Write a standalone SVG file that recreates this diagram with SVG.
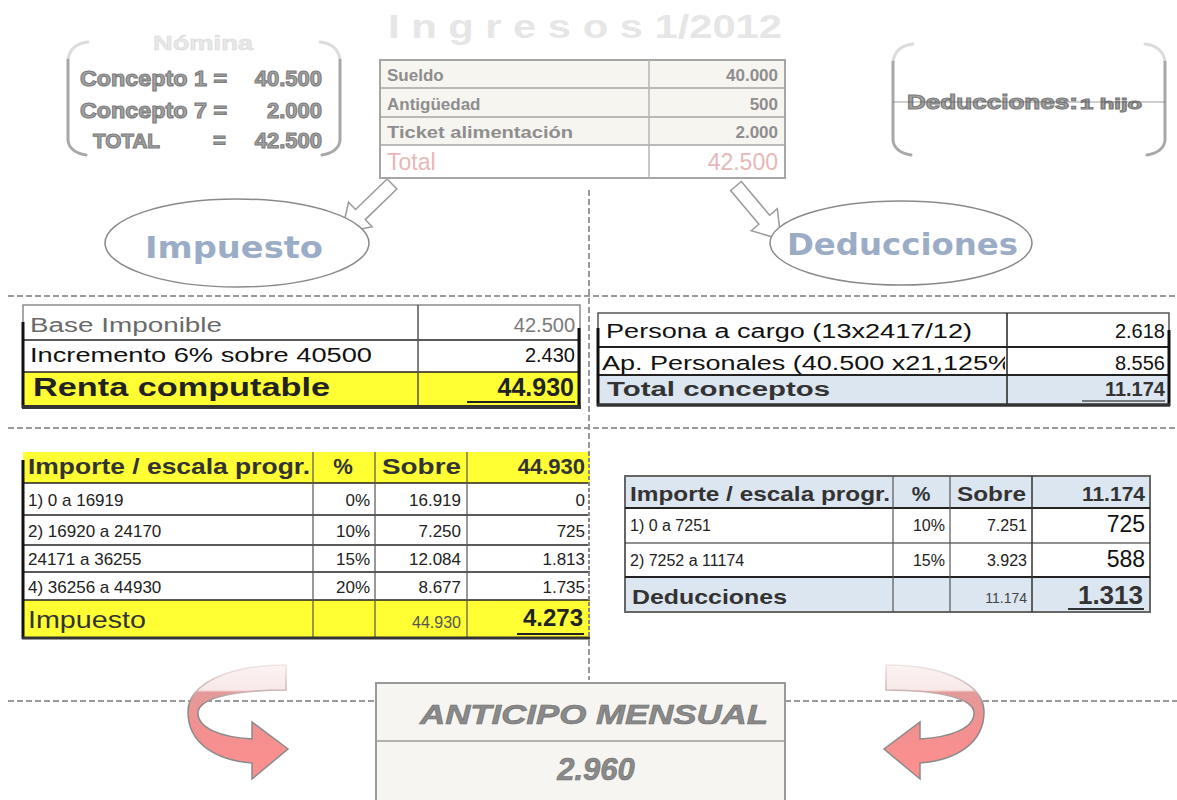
<svg xmlns="http://www.w3.org/2000/svg" width="1177" height="800" viewBox="0 0 1177 800">
<defs>
<style>
text{font-family:"Liberation Sans",Arial,sans-serif;}
.dash{stroke:#9a9a9a;stroke-width:2;stroke-dasharray:6 3;fill:none;}
.emb{font-weight:bold;fill:#a4a4a4;stroke:#7c7c7c;stroke-width:1.1;}
.brk{fill:none;stroke:#a8a8a8;stroke-width:3;stroke-linecap:round;}
.brkl{fill:none;stroke:#dcdcdc;stroke-width:3;stroke-linecap:round;}
.tt{font-size:17px;font-weight:bold;fill:#8e8e8e;}
.tot{font-size:23px;fill:#e6b8b8;}
.ell{fill:#fff;stroke:#8a8a8a;stroke-width:1.5;}
.elt{font-family:"DejaVu Sans",Verdana,sans-serif;font-weight:bold;font-size:30px;fill:#9badc6;}
.barrow{fill:#fff;stroke:#9a9a9a;stroke-width:1.5;}
.grid{stroke:#222;stroke-width:1.5;fill:none;}
.r19{font-size:20px;fill:#111;}
.b25{font-size:25px;font-weight:bold;fill:#222;}
.r17{font-size:17px;fill:#222;}
.h22{font-size:22px;font-weight:bold;fill:#333;}
.end{text-anchor:end;}
.ant{font-size:28px;font-weight:bold;font-style:italic;fill:#8a8a8a;stroke:#6e6e6e;stroke-width:0.6;}
.curv{stroke:url(#rs);stroke-width:1.5;fill:url(#rg);}
</style>
<linearGradient id="rg" x1="0" y1="0" x2="0" y2="1">
<stop offset="0" stop-color="#fcf3f3"/>
<stop offset="0.22" stop-color="#f8e8e8"/>
<stop offset="0.24" stop-color="#e49a9a"/>
<stop offset="0.55" stop-color="#f29090"/>
<stop offset="1" stop-color="#ff8f8f"/>
</linearGradient>
<linearGradient id="rs" x1="0" y1="0" x2="0" y2="1">
<stop offset="0" stop-color="#f0e6e6"/>
<stop offset="0.24" stop-color="#c8b0b0"/>
<stop offset="0.35" stop-color="#8a8a8a"/>
<stop offset="1" stop-color="#8a8a8a"/>
</linearGradient>
<clipPath id="clipHdr"><rect x="0" y="452" width="600" height="40"/></clipPath>
<clipPath id="clipBase"><rect x="0" y="316" width="600" height="30"/></clipPath>
<clipPath id="clipAp"><rect x="598" y="345" width="407" height="32"/></clipPath>
<path id="barr" d="M0,-7 L44,-7 L44,-17 L70,0 L44,17 L44,7 L0,7 Z"/>
<path id="uarr" d="M286,665 C228,665 188,684 188,712 C188,742 214,760 252,763 L252,779 L288,749 L252,722 L252,739 C220,737 198,728 198,713 C198,699 230,690 286,690 Z"/>
</defs>

<rect x="0" y="0" width="1177" height="800" fill="#fff"/>

<!-- title -->
<g id="title">
<text x="585" y="38" text-anchor="middle" font-family="'DejaVu Serif',serif" font-weight="bold" font-size="34" fill="#e6e6e6" textLength="394" lengthAdjust="spacingAndGlyphs">I n g r e s o s 1/2012</text>
</g>

<!-- connectors / separators -->
<g id="connectors">
<line class="dash" x1="8" y1="296" x2="1177" y2="296"/>
<line class="dash" x1="8" y1="428" x2="1177" y2="428"/>
<line class="dash" x1="589" y1="190" x2="589" y2="680"/>
<line class="dash" x1="8" y1="701" x2="376" y2="701"/>
<line class="dash" x1="785" y1="701" x2="1177" y2="701"/>
<use href="#barr" class="barrow" transform="translate(392,184) rotate(136)"/>
<use href="#barr" class="barrow" transform="translate(736,186) rotate(50)"/>
<use href="#uarr" class="curv"/>
<use href="#uarr" class="curv" transform="translate(1172,0) scale(-1,1)"/>
</g>

<!-- Nómina -->
<g id="nomina">
<path class="brkl" d="M88,42 Q70,44 68,60"/>
<path class="brk" d="M68,60 L68,140 Q69,152 86,155"/>
<path class="brkl" d="M320,42 Q338,44 340,60"/>
<path class="brk" d="M340,60 L340,140 Q339,152 322,155"/>
<text x="153" y="50" font-size="20" font-weight="bold" fill="#e8e8e8" stroke="#d8d8d8" stroke-width="0.5" textLength="100" lengthAdjust="spacingAndGlyphs">Nómina</text>
<text class="emb" x="80" y="86" font-size="22" textLength="147" lengthAdjust="spacingAndGlyphs">Concepto 1 =</text>
<text class="emb end" x="322" y="86" font-size="22">40.500</text>
<text class="emb" x="80" y="118" font-size="22" textLength="147" lengthAdjust="spacingAndGlyphs">Concepto 7 =</text>
<text class="emb end" x="322" y="118" font-size="22">2.000</text>
<text class="emb" x="93" y="148" font-size="20" textLength="67" lengthAdjust="spacingAndGlyphs">TOTAL</text>
<text class="emb" x="213" y="148" font-size="22">=</text>
<text class="emb end" x="322" y="148" font-size="22">42.500</text>
</g>

<!-- Ingresos table -->
<g id="ingresos">
<rect x="380" y="60" width="405" height="85" fill="#f6f5f0"/>
<rect x="380" y="145" width="405" height="33" fill="#fff"/>
<rect x="380" y="60" width="405" height="118" fill="none" stroke="#a5a5a5" stroke-width="2"/>
<line x1="380" y1="88" x2="785" y2="88" stroke="#a5a5a5" stroke-width="1.5"/>
<line x1="380" y1="117" x2="785" y2="117" stroke="#a5a5a5" stroke-width="1.5"/>
<line x1="380" y1="145" x2="785" y2="145" stroke="#a5a5a5" stroke-width="1.5"/>
<line x1="649" y1="60" x2="649" y2="178" stroke="#b5b5b5" stroke-width="1.5"/>
<text class="tt" x="387" y="81">Sueldo</text>
<text class="tt end" x="778" y="81">40.000</text>
<text class="tt" x="387" y="110">Antigüedad</text>
<text class="tt end" x="778" y="110">500</text>
<text class="tt" x="387" y="138" textLength="186" lengthAdjust="spacingAndGlyphs">Ticket alimentación</text>
<text class="tt end" x="778" y="138">2.000</text>
<text class="tot" x="387" y="170">Total</text>
<text class="tot end" x="778" y="170">42.500</text>
</g>

<!-- Deducciones: 1 hijo -->
<g id="deduc-hijo">
<path class="brkl" d="M913,44 Q895,46 893,62"/>
<path class="brk" d="M893,62 L893,140 Q894,152 911,155"/>
<path class="brkl" d="M1145,44 Q1163,46 1165,62"/>
<path class="brk" d="M1165,62 L1165,140 Q1164,152 1147,155"/>
<text class="emb" x="907" y="109" font-size="20" textLength="171" lengthAdjust="spacingAndGlyphs">Deducciones:</text>
<text class="emb" x="1080" y="109" font-size="15" textLength="62" lengthAdjust="spacingAndGlyphs">1 hijo</text>
<line x1="893" y1="102" x2="1165" y2="102" stroke="#555" stroke-width="0.8" opacity="0.7"/>
</g>

<!-- ellipses -->
<g id="impuesto-ellipse">
<ellipse class="ell" cx="237" cy="243" rx="132" ry="44"/>
<text class="elt" x="145" y="258" textLength="178" lengthAdjust="spacingAndGlyphs">Impuesto</text>
</g>
<g id="deducciones-ellipse">
<ellipse class="ell" cx="901" cy="243" rx="131" ry="42"/>
<text class="elt" x="787" y="255" textLength="231" lengthAdjust="spacingAndGlyphs">Deducciones</text>
</g>

<!-- Renta table -->
<g id="renta">
<rect x="23" y="305" width="557" height="102" fill="#fff" stroke="#8a8a8a" stroke-width="1.5"/>
<rect x="23" y="372" width="557" height="34" fill="#ffff33"/>
<line class="grid" x1="23" y1="340" x2="580" y2="340"/>
<line class="grid" x1="23" y1="372" x2="580" y2="372"/>
<line x1="418" y1="305" x2="418" y2="407" stroke="#555" stroke-width="1.5"/>
<line x1="23" y1="322" x2="23" y2="408" stroke="#111" stroke-width="3"/>
<line x1="579" y1="328" x2="579" y2="408" stroke="#111" stroke-width="3"/>
<line x1="22" y1="407" x2="581" y2="407" stroke="#333" stroke-width="4"/>
<g clip-path="url(#clipBase)">
<text class="r19" x="30" y="332" style="fill:#6a6a6a" textLength="192" lengthAdjust="spacingAndGlyphs">Base Imponible</text>
<text class="r19 end" x="575" y="332" style="fill:#7a7a7a">42.500</text>
</g>
<text class="r19" x="30" y="362" textLength="342" lengthAdjust="spacingAndGlyphs">Incremento 6% sobre 40500</text>
<text class="r19 end" x="575" y="362">2.430</text>
<text class="b25" x="33" y="396" textLength="297" lengthAdjust="spacingAndGlyphs">Renta computable</text>
<text class="b25 end" x="574" y="396">44.930</text>
<line x1="467" y1="402" x2="575" y2="402" stroke="#222" stroke-width="2"/>
</g>

<!-- Conceptos table -->
<g id="conceptos">
<rect x="598" y="313" width="571" height="92" fill="#fff" stroke="#555" stroke-width="1.5"/>
<rect x="598" y="375" width="571" height="29" fill="#dce6f1"/>
<line class="grid" x1="598" y1="347" x2="1169" y2="347" style="stroke-width:2"/>
<line class="grid" x1="598" y1="375" x2="1169" y2="375" style="stroke-width:2"/>
<line x1="1007" y1="313" x2="1007" y2="405" stroke="#222" stroke-width="1.5"/>
<line x1="598" y1="328" x2="598" y2="406" stroke="#111" stroke-width="3"/>
<line x1="1169" y1="330" x2="1169" y2="406" stroke="#111" stroke-width="3"/>
<line x1="597" y1="405" x2="1170" y2="405" stroke="#333" stroke-width="3.5"/>
<text class="r19" x="606" y="338" textLength="366" lengthAdjust="spacingAndGlyphs">Persona a cargo (13x2417/12)</text>
<text class="r19 end" x="1165" y="338">2.618</text>
<g clip-path="url(#clipAp)">
<text class="r19" x="602" y="370" textLength="410" lengthAdjust="spacingAndGlyphs">Ap. Personales (40.500 x21,125%</text>
</g>
<text class="r19 end" x="1165" y="370">8.556</text>
<text class="r19" x="607" y="396" style="font-weight:bold;fill:#333" textLength="223" lengthAdjust="spacingAndGlyphs">Total conceptos</text>
<text class="r19 end" x="1165" y="396" style="font-weight:bold;fill:#333">11.174</text>
<line x1="1082" y1="401" x2="1165" y2="401" stroke="#555" stroke-width="1.5"/>
</g>

<!-- Impuesto scale table -->
<g id="escala-impuesto">
<rect x="23" y="452" width="567" height="31" fill="#ffff33"/>
<rect x="23" y="600" width="567" height="38" fill="#ffff33"/>
<rect x="23" y="483" width="567" height="117" fill="#fff"/>
<g class="grid">
<line x1="23" y1="483" x2="590" y2="483"/>
<line x1="23" y1="515" x2="590" y2="515"/>
<line x1="23" y1="545" x2="590" y2="545"/>
<line x1="23" y1="572" x2="590" y2="572"/>
<line x1="23" y1="600" x2="590" y2="600"/>
</g>
<line x1="313" y1="452" x2="313" y2="638" stroke="#555" stroke-width="1.2"/>
<line x1="375" y1="452" x2="375" y2="638" stroke="#555" stroke-width="1.2"/>
<line x1="467" y1="452" x2="467" y2="638" stroke="#555" stroke-width="1.2"/>
<line x1="23" y1="460" x2="23" y2="639" stroke="#111" stroke-width="3"/>
<line x1="589" y1="452" x2="589" y2="639" stroke="#888" stroke-width="2" stroke-dasharray="4 2"/>
<line x1="22" y1="638" x2="590" y2="638" stroke="#333" stroke-width="3"/>
<g clip-path="url(#clipHdr)">
<text class="h22" x="28" y="474" textLength="282" lengthAdjust="spacingAndGlyphs">Importe / escala progr.</text>
<text class="h22" x="343" y="474" text-anchor="middle">%</text>
<text class="h22" x="382" y="474" textLength="79" lengthAdjust="spacingAndGlyphs">Sobre</text>
<text class="h22 end" x="585" y="474">44.930</text>
</g>
<text class="r17" x="28" y="506">1) 0 a 16919</text>
<text class="r17 end" x="370" y="506">0%</text>
<text class="r17 end" x="461" y="506">16.919</text>
<text class="r17 end" x="585" y="506">0</text>
<text class="r17" x="28" y="537">2) 16920 a 24170</text>
<text class="r17 end" x="370" y="537">10%</text>
<text class="r17 end" x="461" y="537">7.250</text>
<text class="r17 end" x="585" y="537">725</text>
<text class="r17" x="28" y="565">24171 a 36255</text>
<text class="r17 end" x="370" y="565">15%</text>
<text class="r17 end" x="461" y="565">12.084</text>
<text class="r17 end" x="585" y="565">1.813</text>
<text class="r17" x="28" y="593">4) 36256 a 44930</text>
<text class="r17 end" x="370" y="593">20%</text>
<text class="r17 end" x="461" y="593">8.677</text>
<text class="r17 end" x="585" y="593">1.735</text>
<text x="28" y="628" font-size="23" fill="#333" textLength="118" lengthAdjust="spacingAndGlyphs">Impuesto</text>
<text x="461" y="628" font-size="16" fill="#555" text-anchor="end">44.930</text>
<text class="b25 end" x="583" y="626" style="font-size:24px">4.273</text>
<line x1="517" y1="634" x2="584" y2="634" stroke="#222" stroke-width="2"/>
</g>

<!-- Deducciones scale table -->
<g id="escala-deducciones">
<rect x="625" y="476" width="525" height="32" fill="#dce6f1"/>
<rect x="625" y="508" width="525" height="69" fill="#fff"/>
<rect x="625" y="577" width="525" height="35" fill="#dce6f1"/>
<rect x="625" y="476" width="525" height="136" fill="none" stroke="#666" stroke-width="2"/>
<line x1="625" y1="508" x2="1150" y2="508" stroke="#222" stroke-width="2"/>
<line x1="625" y1="543" x2="1150" y2="543" stroke="#222" stroke-width="1.2"/>
<line x1="625" y1="577" x2="1150" y2="577" stroke="#222" stroke-width="2"/>
<line x1="893" y1="476" x2="893" y2="612" stroke="#555" stroke-width="1.2"/>
<line x1="950" y1="476" x2="950" y2="612" stroke="#555" stroke-width="1.2"/>
<line x1="1032" y1="476" x2="1032" y2="612" stroke="#333" stroke-width="1.5"/>
<text x="630" y="501" font-size="21" font-weight="bold" fill="#333" textLength="260" lengthAdjust="spacingAndGlyphs">Importe / escala progr.</text>
<text x="921" y="501" font-size="21" font-weight="bold" fill="#333" text-anchor="middle">%</text>
<text x="957" y="501" font-size="21" font-weight="bold" fill="#333" textLength="69" lengthAdjust="spacingAndGlyphs">Sobre</text>
<text x="1145" y="501" font-size="21" font-weight="bold" fill="#333" text-anchor="end">11.174</text>
<text x="630" y="531" font-size="16" fill="#222">1) 0 a 7251</text>
<text x="945" y="531" font-size="16" fill="#222" text-anchor="end">10%</text>
<text x="1027" y="531" font-size="16" fill="#222" text-anchor="end">7.251</text>
<text x="1145" y="532" font-size="23" fill="#111" text-anchor="end">725</text>
<text x="630" y="566" font-size="16" fill="#222">2) 7252 a 11174</text>
<text x="945" y="566" font-size="16" fill="#222" text-anchor="end">15%</text>
<text x="1027" y="566" font-size="16" fill="#222" text-anchor="end">3.923</text>
<text x="1145" y="567" font-size="23" fill="#111" text-anchor="end">588</text>
<text x="632" y="604" font-size="21" font-weight="bold" fill="#333" textLength="155" lengthAdjust="spacingAndGlyphs">Deducciones</text>
<text x="1027" y="603" font-size="14" fill="#444" text-anchor="end">11.174</text>
<text x="1143" y="604" font-size="26" font-weight="bold" fill="#333" text-anchor="end">1.313</text>
<line x1="1068" y1="609" x2="1144" y2="609" stroke="#333" stroke-width="2"/>
</g>

<!-- Anticipo mensual -->
<g id="anticipo">
<rect x="376" y="683" width="409" height="120" fill="#f6f5f1" stroke="#9a9a9a" stroke-width="2"/>
<line x1="376" y1="741" x2="785" y2="741" stroke="#9a9a9a" stroke-width="1.5"/>
<text class="ant" x="594" y="724" text-anchor="middle" textLength="348" lengthAdjust="spacingAndGlyphs">ANTICIPO MENSUAL</text>
<text class="ant" x="596" y="780" text-anchor="middle" style="font-size:31px">2.960</text>
</g>
</svg>
